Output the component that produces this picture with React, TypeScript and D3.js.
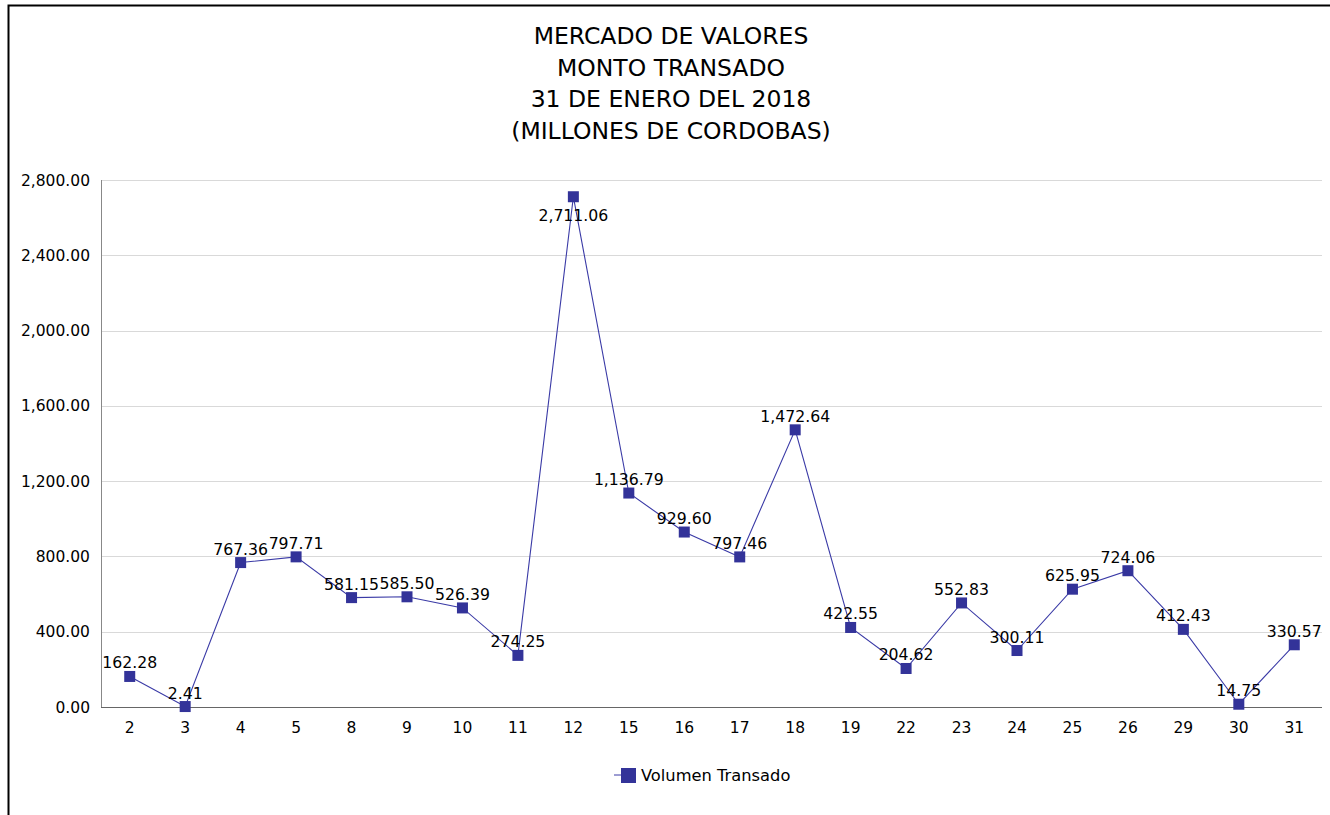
import * as d3 from "d3";
import React, { useEffect, useRef } from "react";

const days = ["2", "3", "4", "5", "8", "9", "10", "11", "12", "15", "16", "17", "18", "19", "22", "23", "24", "25", "26", "29", "30", "31"];
const montos = [162.28, 2.41, 767.36, 797.71, 581.15, 585.5, 526.39, 274.25, 2711.06, 1136.79, 929.6, 797.46, 1472.64, 422.55, 204.62, 552.83, 300.11, 625.95, 724.06, 412.43, 14.75, 330.57];
const yTicks = [0, 400, 800, 1200, 1600, 2000, 2400, 2800];
const titleLines = ["MERCADO DE VALORES", "MONTO TRANSADO", "31 DE ENERO DEL 2018", "(MILLONES DE CORDOBAS)"];
const seriesName = "Volumen Transado";

const W = 1330;
const H = 815;
const font = "'DejaVu Sans', Verdana, sans-serif";
const blue = "#333399";

const App = () => {
  const ref = useRef<SVGSVGElement>(null);

  useEffect(() => {
    const svg = d3.select(ref.current);
    svg.selectAll("*").remove();

    const margin = { top: 180, left: 102, right: 8, bottom: 108 };
    const width = W - margin.left - margin.right;
    const height = H - margin.top - margin.bottom;

    // outer frame
    svg.append("rect")
      .attr("x", 8.5).attr("y", 5.5)
      .attr("width", 1400).attr("height", 1000)
      .attr("fill", "white").attr("stroke", "black").attr("stroke-width", 2);

    svg.append("g")
      .selectAll("text")
      .data(titleLines)
      .join("text")
      .attr("x", 671)
      .attr("y", (d, i) => 44 + i * 31.7)
      .attr("text-anchor", "middle")
      .attr("font-family", font)
      .attr("font-size", 23.5)
      .attr("fill", "#000")
      .text(d => d);

    const g = svg.append("g").attr("transform", `translate(${margin.left},${margin.top})`);

    const x = d3.scaleBand().domain(days).range([0, width]);
    const y = d3.scaleLinear().domain([0, 2800]).range([height, 0]);
    const cx = (d: string) => (x(d) as number) + x.bandwidth() / 2;

    g.append("g")
      .selectAll("line")
      .data(yTicks.slice(1))
      .join("line")
      .attr("x1", 0).attr("x2", width)
      .attr("y1", d => Math.round(y(d)) + 0.5).attr("y2", d => Math.round(y(d)) + 0.5)
      .attr("stroke", "#d9d9d9");

    g.append("line")
      .attr("x1", -0.5).attr("x2", -0.5)
      .attr("y1", 0).attr("y2", height)
      .attr("stroke", "#888");
    g.append("line")
      .attr("x1", -1).attr("x2", width)
      .attr("y1", height + 0.5).attr("y2", height + 0.5)
      .attr("stroke", "#666");

    g.append("g")
      .selectAll("text")
      .data(yTicks)
      .join("text")
      .attr("x", -12)
      .attr("y", d => y(d))
      .attr("dy", "0.36em")
      .attr("text-anchor", "end")
      .attr("font-family", font)
      .attr("font-size", 15.5)
      .text(d => d3.format(",.2f")(d));

    g.append("g")
      .selectAll("text")
      .data(days)
      .join("text")
      .attr("x", d => cx(d))
      .attr("y", height + 20)
      .attr("dy", "0.36em")
      .attr("text-anchor", "middle")
      .attr("font-family", font)
      .attr("font-size", 15.5)
      .text(d => d);

    const line = d3.line<number>()
      .x((d, i) => cx(days[i]))
      .y(d => y(d));

    g.append("path")
      .datum(montos)
      .attr("fill", "none")
      .attr("stroke", "#3a3aa6")
      .attr("stroke-width", 1.1)
      .attr("d", line);

    const ms = 11;
    g.append("g")
      .selectAll("rect")
      .data(montos)
      .join("rect")
      .attr("x", (d, i) => cx(days[i]) - ms / 2)
      .attr("y", d => y(d) - ms / 2)
      .attr("width", ms).attr("height", ms)
      .attr("fill", blue);

    g.append("g")
      .selectAll("text")
      .data(montos)
      .join("text")
      .attr("x", (d, i) => cx(days[i]))
      .attr("y", d => (d > 2600 ? y(d) + 24 : y(d) - 8))
      .attr("text-anchor", "middle")
      .attr("font-family", font)
      .attr("font-size", 15.7)
      .text(d => d3.format(",.2f")(d));

    // legend
    const lg = svg.append("g").attr("transform", "translate(627,775)");
    lg.append("line").attr("x1", -13).attr("x2", 9).attr("y1", 0).attr("y2", 0).attr("stroke", "#3a3aa6");
    lg.append("rect").attr("x", -6).attr("y", -7).attr("width", 15).attr("height", 15).attr("fill", blue);
    lg.append("text")
      .attr("x", 14).attr("y", 0).attr("dy", "0.36em")
      .attr("font-family", font).attr("font-size", 16.3)
      .text(seriesName);
  }, []);

  return (
    <svg ref={ref} width={W} height={H} style={{ position: "absolute", left: 0, top: 0, background: "white" }} />
  );
};

export default App;
